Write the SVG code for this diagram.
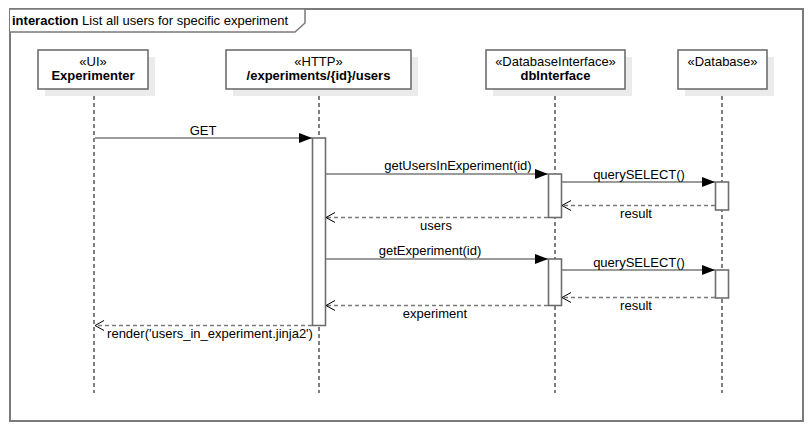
<svg xmlns="http://www.w3.org/2000/svg" width="812" height="432" viewBox="0 0 812 432">
<style>
text{font-family:"Liberation Sans",Arial,sans-serif;font-size:13px;fill:#000}
.b{font-weight:bold}
.box{fill:#fff;stroke:#6e6e6e;stroke-width:1.6}
.sh{fill:#ebebeb}
.life{stroke:#000;stroke-width:1;stroke-dasharray:4,3;fill:none}
.act{fill:#fff;stroke:#6e6e6e;stroke-width:1.6}
.msg{stroke:#7a7a7a;stroke-width:1.6;fill:none}
.ret{stroke:#7a7a7a;stroke-width:1.6;stroke-dasharray:4,3;fill:none}
</style>
<defs>
<marker id="sync" markerWidth="14" markerHeight="10" refX="13" refY="5" orient="auto" markerUnits="userSpaceOnUse">
<path d="M0,0 L13,5 L0,10 Z" fill="#000"/>
</marker>
<marker id="open" markerWidth="12" markerHeight="12" refX="10" refY="6" orient="auto" markerUnits="userSpaceOnUse">
<path d="M1,1 L10,6 L1,11" fill="none" stroke="#000" stroke-width="1"/>
</marker>
</defs>
<rect x="0" y="0" width="812" height="432" fill="#fff"/>
<g id="frame">
<rect x="10" y="9" width="793" height="412" fill="none" stroke="#7a7a7a" stroke-width="2"/>
<path d="M10,9 L305,9 L305,23 L295,32 L10,32" fill="#fff" stroke="#7a7a7a" stroke-width="1.5"/>
<text x="12" y="25"><tspan class="b">interaction</tspan> List all users for specific experiment</text>
</g>
<g id="lifelines">
<line class="life" x1="94" y1="89" x2="94" y2="393"/>
<line class="life" x1="319" y1="89" x2="319" y2="393"/>
<line class="life" x1="555" y1="89" x2="555" y2="393"/>
<line class="life" x1="722" y1="89" x2="722" y2="393"/>
</g>
<g id="experimenter">
<rect class="sh" x="45" y="57" width="110" height="39"/>
<rect class="box" x="38" y="50" width="110" height="39"/>
<text x="93" y="66" text-anchor="middle">«UI»</text>
<text class="b" x="93" y="80" text-anchor="middle">Experimenter</text>
</g>
<g id="http">
<rect class="sh" x="233" y="57" width="185" height="39"/>
<rect class="box" x="226" y="50" width="185" height="39"/>
<text x="318.5" y="66" text-anchor="middle">«HTTP»</text>
<text class="b" x="318.5" y="80" text-anchor="middle">/experiments/{id}/users</text>
</g>
<g id="dbInterface">
<rect class="sh" x="493" y="57" width="139" height="39"/>
<rect class="box" x="486" y="50" width="139" height="39"/>
<text x="555.5" y="66" text-anchor="middle">«DatabaseInterface»</text>
<text class="b" x="555.5" y="80" text-anchor="middle">dbInterface</text>
</g>
<g id="database">
<rect class="sh" x="685" y="57" width="89" height="39"/>
<rect class="box" x="678" y="50" width="89" height="39"/>
<text x="722.5" y="66" text-anchor="middle">«Database»</text>
</g>
<g id="activations">
<rect class="act" x="312.5" y="138" width="13" height="187.5"/>
<rect class="act" x="548.5" y="174" width="13" height="43.5"/>
<rect class="act" x="715.5" y="182" width="13" height="28"/>
<rect class="act" x="548.5" y="259" width="13" height="46.5"/>
<rect class="act" x="715.5" y="270" width="13" height="28"/>
</g>
<g id="connectors">
<line class="msg" x1="95" y1="138" x2="312" y2="138" marker-end="url(#sync)"/>
<text x="203" y="135" text-anchor="middle">GET</text>
<line class="msg" x1="326" y1="174" x2="548" y2="174" marker-end="url(#sync)"/>
<text x="458" y="170" text-anchor="middle">getUsersInExperiment(id)</text>
<line class="msg" x1="562" y1="182" x2="715" y2="182" marker-end="url(#sync)"/>
<text x="639" y="179" text-anchor="middle">querySELECT()</text>
<line class="ret" x1="715" y1="205.5" x2="562" y2="205.5" marker-end="url(#open)"/>
<text x="636" y="218" text-anchor="middle">result</text>
<line class="ret" x1="548" y1="217.5" x2="326" y2="217.5" marker-end="url(#open)"/>
<text x="436" y="230" text-anchor="middle">users</text>
<line class="msg" x1="326" y1="259" x2="548" y2="259" marker-end="url(#sync)"/>
<text x="430" y="255" text-anchor="middle">getExperiment(id)</text>
<line class="msg" x1="562" y1="270" x2="715" y2="270" marker-end="url(#sync)"/>
<text x="639" y="267" text-anchor="middle">querySELECT()</text>
<line class="ret" x1="715" y1="297.5" x2="562" y2="297.5" marker-end="url(#open)"/>
<text x="636" y="310" text-anchor="middle">result</text>
<line class="ret" x1="548" y1="305.5" x2="326" y2="305.5" marker-end="url(#open)"/>
<text x="435" y="318" text-anchor="middle">experiment</text>
<line class="ret" x1="312" y1="325.5" x2="95" y2="325.5" marker-end="url(#open)"/>
<text x="210" y="338" text-anchor="middle">render('users_in_experiment.jinja2')</text>
</g>
</svg>
